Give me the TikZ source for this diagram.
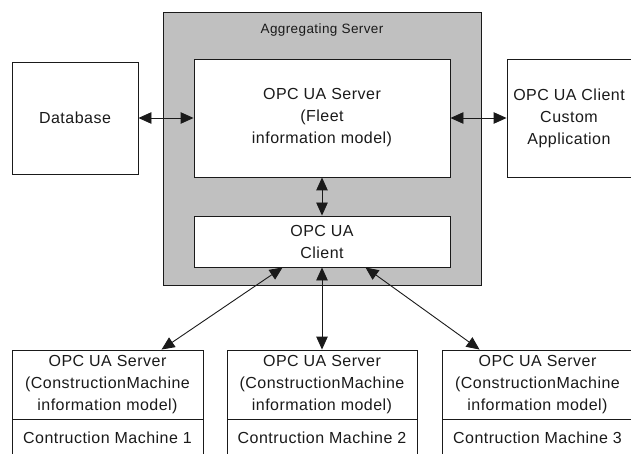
\documentclass[tikz,border=0pt]{standalone}
\usepackage{fontspec}
\setmainfont{Liberation Sans}[LetterSpace=3]
\usetikzlibrary{arrows.meta,calc}
\definecolor{aggfill}{RGB}{192,192,192}
\definecolor{ink}{RGB}{26,26,26}
\begin{document}
\begin{tikzpicture}[x=1pt,y=-1pt,
  box/.style={draw=ink,line width=0.9pt,fill=white,inner sep=0pt,align=center,
    text=ink,font=\fontsize{16}{22}\selectfont},
  link/.style={draw=ink,line width=0.9pt,
    {Triangle[length=13pt,width=11.5pt]}-{Triangle[length=13pt,width=11.5pt]}}]
\useasboundingbox (0,0) rectangle (631,454);
\clip (0,0) rectangle (631,454);

% aggregating server container
\node[box,fill=aggfill,minimum width=318pt,minimum height=273pt] (agg) at (322,148.5) {};
\node[text=ink,font=\fontsize{13.5}{16}\selectfont] (title) at (322,30) {Aggregating Server};

\node[box,minimum width=256pt,minimum height=118pt] (fleet) at (322,118)
  {OPC UA Server\\(Fleet\\information model)};
\node[box,minimum width=256pt,minimum height=51pt] (client) at (322,241.5)
  {OPC UA\\Client};

% side boxes
\node[box,minimum width=126pt,minimum height=112pt] (db) at (75,118) {Database};
\node[box,minimum width=127pt,minimum height=118pt] (app) at (570.5,118) {};
\node[text=ink,align=center,font=\fontsize{16}{22}\selectfont] (apptext) at (569,118)
  {OPC UA Client\\Custom\\Application};

% construction machines
\node[box,minimum width=191pt,minimum height=69pt] (m1top) at (107.5,384.5)
  {OPC UA Server\\(ConstructionMachine\\information model)};
\node[box,minimum width=191pt,minimum height=38pt] (m1bot) at (107.5,438) {Contruction Machine 1};
\node[box,minimum width=190pt,minimum height=69pt] (m2top) at (322,384.5)
  {OPC UA Server\\(ConstructionMachine\\information model)};
\node[box,minimum width=190pt,minimum height=38pt] (m2bot) at (322,438) {Contruction Machine 2};
\node[box,minimum width=191pt,minimum height=69pt] (m3top) at (537.5,384.5)
  {OPC UA Server\\(ConstructionMachine\\information model)};
\node[box,minimum width=191pt,minimum height=38pt] (m3bot) at (537.5,438) {Contruction Machine 3};

% connections
\draw[link] (db.east) -- (fleet.west);
\draw[link] (fleet.east) -- (app.west);
\draw[link] (fleet.south) -- (client.north);
\draw[link] ([xshift=89pt]client.south west) -- ([xshift=150pt]m1top.north west);
\draw[link] (client.south) -- (m2top.north);
\draw[link] ([xshift=-85pt]client.south east) -- ([xshift=38pt]m3top.north west);
\end{tikzpicture}
\end{document}
